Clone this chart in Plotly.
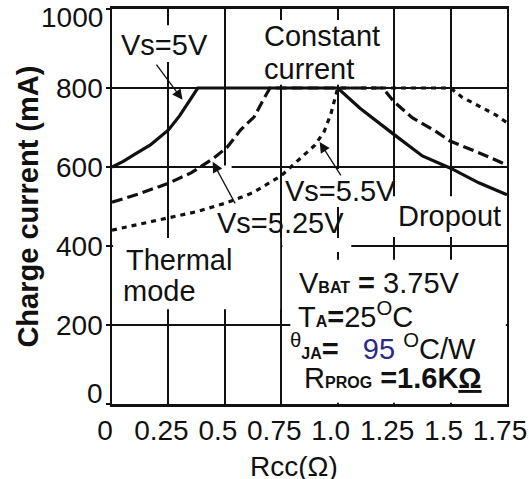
import plotly.graph_objects as go

# ---------------- data ----------------
x_ticks = [0, 0.25, 0.5, 0.75, 1.0, 1.25, 1.5, 1.75]
x_tick_text = ["0", "0.25", "0.5", "0.75", "1.0", "1.25", "1.5", "1.75"]
y_ticks = [0, 200, 400, 600, 800, 1000]
y_tick_text = ["0", "200", "400", "600", "800", "1000"]

# Vs = 5V (solid)
x_5v = [0, 0.05, 0.10, 0.17, 0.25, 0.30, 0.34, 0.38, 1.0, 1.10, 1.25, 1.375, 1.5, 1.625, 1.75]
y_5v = [600, 614, 632, 656, 694, 730, 765, 800, 800, 748, 682, 628, 597, 560, 530]

# Vs = 5.25V (dashed)
x_525 = [0, 0.125, 0.25, 0.35, 0.45, 0.51, 0.57, 0.63, 0.67, 0.70, 1.2, 1.25, 1.33, 1.43, 1.5, 1.63, 1.75]
y_525 = [511, 533, 559, 585, 622, 650, 694, 727, 770, 800, 800, 765, 725, 692, 665, 635, 605]

# Vs = 5.5V (short dashes)
x_55 = [0, 0.125, 0.25, 0.375, 0.5, 0.625, 0.75, 0.85, 0.90, 0.94, 0.97, 1.0, 1.5, 1.55, 1.63, 1.70, 1.75]
y_55 = [440, 455, 471, 487, 508, 535, 578, 630, 656, 690, 735, 800, 800, 777, 752, 732, 712]

FONT = "Liberation Sans, Arial, sans-serif"
INK = "#111111"

fig = go.Figure()
fig.add_trace(go.Scatter(x=x_5v, y=y_5v, mode="lines", name="Vs=5V",
                         line=dict(color=INK, width=3.2)))
fig.add_trace(go.Scatter(x=x_525, y=y_525, mode="lines", name="Vs=5.25V",
                         line=dict(color=INK, width=3.2, dash="11px,5px")))
fig.add_trace(go.Scatter(x=x_55, y=y_55, mode="lines", name="Vs=5.5V",
                         line=dict(color=INK, width=3.2, dash="5px,5px")))

# white areas behind labels (above grid, below curves)
covers = [
    (0.03, 0.43, 866, 959),     # Vs=5V label
    (0.65, 1.22, 808, 972),     # Constant current
    (0.005, 0.745, 240, 420),   # Thermal mode / Vs=5.25V
    (0.47, 0.53, 420, 604),
    (0.755, 1.06, 385, 420),
    (0.76, 1.22, 499, 595),     # Vs=5.5V
    (1.225, 1.745, 423, 526),   # Dropout
    (0.79, 1.745, 3, 365),      # parameter box
]
for x0, x1, y0, y1 in covers:
    fig.add_shape(type="rect", x0=x0, x1=x1, y0=y0, y1=y1, xref="x", yref="y",
                  fillcolor="white", line=dict(width=0), layer="between")

ann = []
def label(text, x, y, size=29, anchor="left"):
    ann.append(dict(text=text, x=x, y=y, xref="x", yref="y", showarrow=False,
                    xanchor=anchor, yanchor="middle", font=dict(size=size, color=INK, family=FONT)))

label("Vs=5V", 0.03, 910)
label("Constant", 0.665, 932)
label("current", 0.665, 848)
label("Vs=5.5V", 0.758, 539)
label("Vs=5.25V", 0.455, 458)
label("Dropout", 1.258, 476)
label("Thermal", 0.053, 365)
label("mode", 0.04, 286)

SUB = "<span style='font-size:16px'><b>%s</b></span>"
label("V" + SUB % "BAT" + "<b> = </b>3.75V", 0.82, 306)
label("T" + SUB % "A" + "<b>=</b>25<sup>O</sup>C", 0.815, 225)
label("<sup>θ</sup>" + SUB % "JA" + "<b>=</b>\u00a0\u00a0\u00a0<span style='color:#2a2a8a'>95</span>\u00a0<sup>O</sup>C/W",
      0.78, 144)
label("R" + SUB % "PROG" + "<b>\u00a0=1.6K<u>Ω</u></b>", 0.84, 66)

def arrow(x, y, ax, ay):
    ann.append(dict(text="", x=x, y=y, ax=ax, ay=ay, xref="x", yref="y", axref="x", ayref="y",
                    showarrow=True, arrowhead=2, arrowsize=1.6, arrowwidth=1.3,
                    arrowcolor=INK, standoff=0, startstandoff=0))

arrow(0.3125, 770, 0.192, 863)
arrow(0.446, 613, 0.549, 504)
arrow(0.92, 663, 1.018, 575)

# y tick labels (placed beside the axis; end labels nudged inside the frame)
y_label_shift = {0: 11, 1000: -8}
for v, t in zip(y_ticks, y_tick_text):
    ann.append(dict(text=t, x=0, y=v, xref="paper", yref="y", showarrow=False,
                    xanchor="right", yanchor="middle", xshift=-7, yshift=y_label_shift.get(v, 0),
                    font=dict(size=28, color=INK, family=FONT)))

# axis titles
ann.append(dict(text="<b>Charge current (mA)</b>", x=-0.215, y=0.5, xref="paper", yref="paper",
                showarrow=False, textangle=-90, xanchor="center", yanchor="middle",
                font=dict(size=29, color=INK, family=FONT)))
ann.append(dict(text="Rcc(Ω)", x=0.461, y=-0.157, xref="paper", yref="paper",
                showarrow=False, xanchor="center", yanchor="middle",
                font=dict(size=28, color=INK, family=FONT)))

fig.update_layout(
    width=529, height=479,
    margin=dict(l=112, r=22, t=9, b=75, autoexpand=False),
    paper_bgcolor="white", plot_bgcolor="white",
    showlegend=False,
    font=dict(family=FONT, color=INK, size=28),
    annotations=ann,
    xaxis=dict(range=[0, 1.75], tickvals=x_ticks, ticktext=x_tick_text, automargin=False,
               showgrid=True, gridcolor=INK, gridwidth=1.6, zeroline=False,
               showline=True, linecolor=INK, linewidth=2.5, mirror=True,
               ticks="", ticklabelstandoff=0, ticklabelshift=-7,
               tickfont=dict(size=28, color=INK, family=FONT)),
    yaxis=dict(range=[0, 1000], tickvals=y_ticks, automargin=False,
               showticklabels=False,
               showgrid=True, gridcolor=INK, gridwidth=1.6, zeroline=False,
               showline=True, linecolor=INK, linewidth=2.2, mirror=True,
               ticks="outside", ticklen=4, tickwidth=1.5, tickcolor=INK),
)

fig.write_html("out.html", config={"displayModeBar": False},
               post_script="document.body.style.margin='0';")
